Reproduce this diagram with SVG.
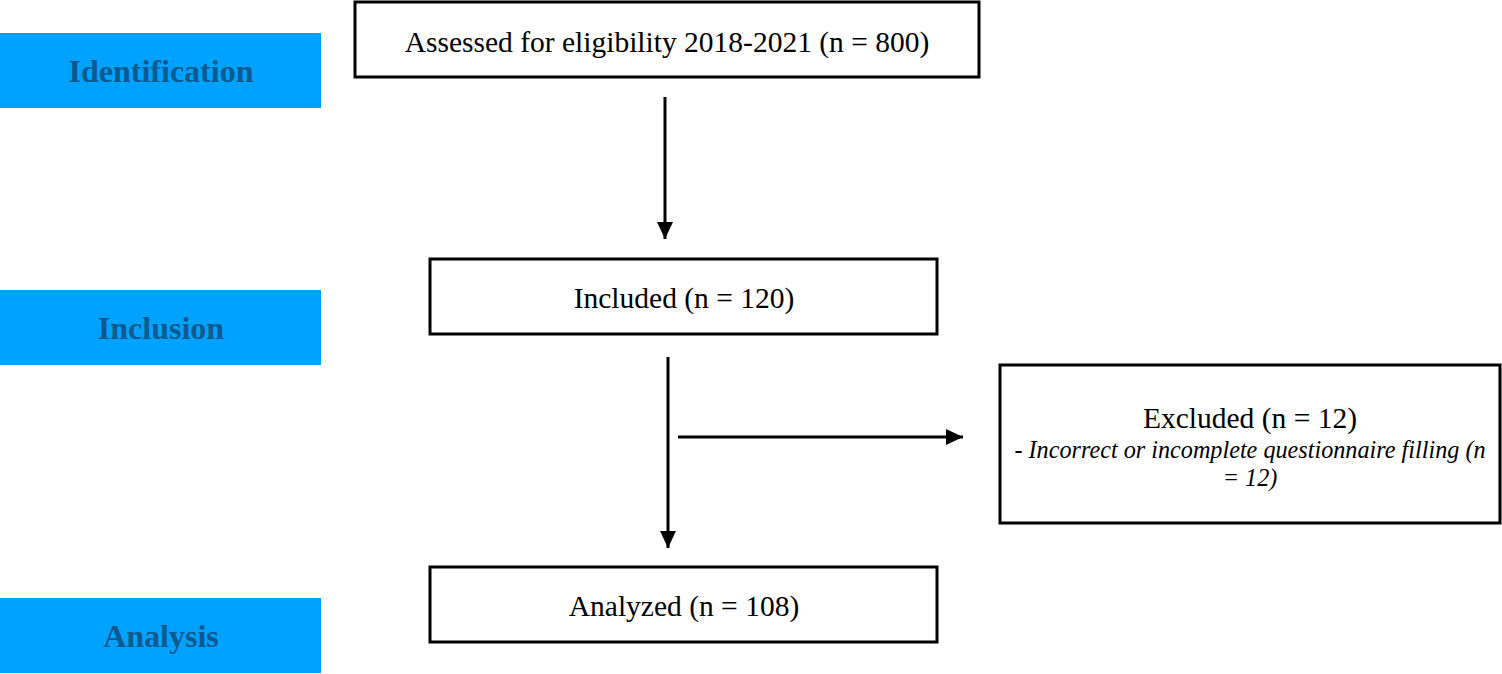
<svg xmlns="http://www.w3.org/2000/svg" width="1502" height="674" viewBox="0 0 1502 674">
<style>
.lab{fill:#00a2ff}
.labt{font-family:"Liberation Serif","Times New Roman",serif;font-weight:bold;font-size:32px;fill:#0b5a90;text-anchor:middle}
.box{fill:#fff;stroke:#000;stroke-width:3}
.t{font-family:"Liberation Serif","Times New Roman",serif;font-size:29.5px;fill:#000;text-anchor:middle}
.ti{font-family:"Liberation Serif","Times New Roman",serif;font-size:24.2px;font-style:italic;fill:#000;text-anchor:middle}
.c{stroke:#000;stroke-width:3;fill:none}
</style>
<defs>
<marker id="ah" markerUnits="userSpaceOnUse" markerWidth="18" markerHeight="18" refX="17" refY="8" orient="auto" viewBox="0 0 18 16">
<polygon points="0,0 17,8 0,16" fill="#000"/>
</marker>
</defs>
<rect width="1502" height="674" fill="#fff"/>
<g id="label-identification"><rect class="lab" x="0" y="33" width="321" height="75"/><text class="labt" x="161" y="82">Identification</text></g>
<g id="label-inclusion"><rect class="lab" x="0" y="290" width="321" height="75"/><text class="labt" x="161" y="339">Inclusion</text></g>
<g id="label-analysis"><rect class="lab" x="0" y="598" width="321" height="75"/><text class="labt" x="161" y="647">Analysis</text></g>
<g id="node-assessed"><rect class="box" x="355" y="2" width="624" height="75"/><text class="t" x="667" y="52">Assessed for eligibility 2018-2021 (n = 800)</text></g>
<g id="node-included"><rect class="box" x="430" y="259" width="507" height="75"/><text class="t" x="684" y="308">Included (n = 120)</text></g>
<g id="node-excluded"><rect class="box" x="1000" y="365" width="500" height="158"/><text class="t" x="1250" y="428">Excluded (n = 12)</text><text class="ti" x="1250" y="458">- Incorrect or incomplete questionnaire filling (n</text><text class="ti" x="1250" y="486">= 12)</text></g>
<g id="node-analyzed"><rect class="box" x="430" y="567" width="507" height="75"/><text class="t" x="684" y="616">Analyzed (n = 108)</text></g>
<g id="connectors">
<path class="c" d="M665,97 V239" marker-end="url(#ah)"/>
<path class="c" d="M668,357 V548" marker-end="url(#ah)"/>
<path class="c" d="M678,437 H963" marker-end="url(#ah)"/>
</g>
</svg>
